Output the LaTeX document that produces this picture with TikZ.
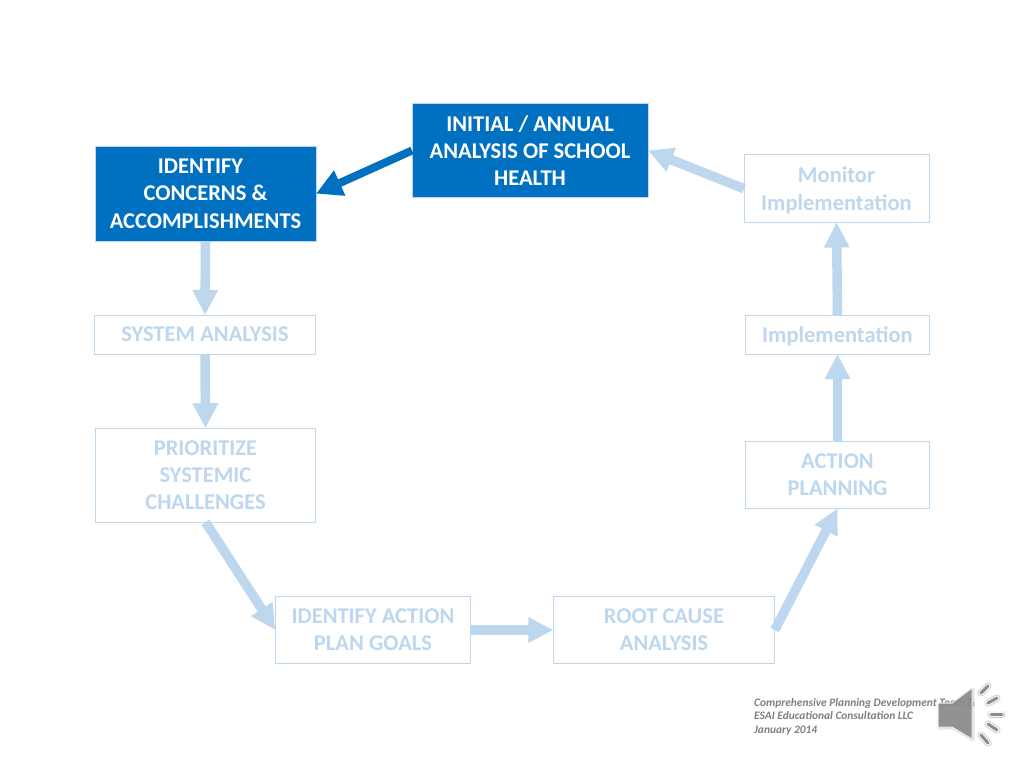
\documentclass[tikz,border=0pt]{standalone}
\usepackage{fontspec}
\setmainfont{Carlito}
\usetikzlibrary{arrows.meta}
\definecolor{strong}{HTML}{0070C0}
\definecolor{pale}{HTML}{BDD7EE}
\definecolor{foot}{HTML}{7F7F7F}
\tikzset{
  x=1pt,y=-1pt,
  boxbase/.style={anchor=center,inner sep=0pt,outer sep=0pt,align=center,font=\fontsize{22.5}{27.3}\selectfont\bfseries},
  activebox/.style={boxbase,fill=strong,draw=pale,line width=0.6pt,text=white},
  fadedbox/.style={boxbase,fill=white,draw=pale,line width=1pt,text=pale},
  flow/.style={pale,line width=9.5pt,-{Triangle[length=25pt,width=24pt]}},
  activeflow/.style={strong,line width=8pt,-{Triangle[length=26pt,width=26pt]}},
  waveback/.style={line cap=round,line width=7pt,draw=black!22},
  wavering/.style={line cap=round,line width=5.4pt,draw=white!95!gray},
  wavecore/.style={line cap=round,line width=3pt,draw=black!45}
}
\newcommand{\speakerwave}[2]{%
  \draw[waveback] #1 -- #2;
  \draw[wavering] #1 -- #2;
  \draw[wavecore] #1 -- #2;
}
\begin{document}
\begin{tikzpicture}
\useasboundingbox (0,0) rectangle (1024,768);
\fill[white] (0,0) rectangle (1024,768);
\node[activebox,minimum width=236pt,minimum height=93.5pt] (initial) at (530,150.5) {INITIAL / ANNUAL\\ANALYSIS OF SCHOOL\\HEALTH};
\node[activebox,minimum width=221pt,minimum height=95.5pt] (concerns) at (205.5,193.7) {IDENTIFY\hspace*{10pt}\\CONCERNS \&\\ACCOMPLISHMENTS};
\node[fadedbox,minimum width=221pt,minimum height=39pt] (system) at (205,334.5) {SYSTEM ANALYSIS};
\node[fadedbox,minimum width=220pt,minimum height=94pt] (prioritize) at (205.5,475.2) {PRIORITIZE\\SYSTEMIC\\CHALLENGES};
\node[fadedbox,minimum width=195.5pt,minimum height=66.5pt] (goals) at (373,630) {IDENTIFY ACTION\\PLAN GOALS};
\node[fadedbox,minimum width=221.5pt,minimum height=66.5pt] (root) at (664,630) {ROOT CAUSE\\ANALYSIS};
\node[fadedbox,minimum width=184pt,minimum height=67pt] (action) at (837.5,475) {ACTION\\PLANNING};
\node[fadedbox,minimum width=184pt,minimum height=39pt,text depth=0pt] (impl) at (837.5,334.5) {Implementation};
\node[fadedbox,minimum width=185pt,minimum height=67.5pt,text depth=0pt] (monitor) at (836.5,188.7) {Monitor\\Implementation};
\draw[activeflow] (initial.west) -- (concerns.east);
\draw[flow] (concerns.south) -- (system.north);
\draw[flow] (system.south) -- (prioritize.north);
\draw[flow] (prioritize.south) -- (goals.west);
\draw[flow] (goals.east) -- (root.west);
\draw[flow] (root.east) -- (action.south);
\draw[flow] (action.north) -- (impl.south);
\draw[flow] (impl.north) -- (monitor.south);
\draw[flow] (monitor.west) -- (initial.east);
\node[anchor=north west,inner sep=0pt,align=left,text=foot,font=\fontsize{11.4}{13.5}\selectfont\bfseries\itshape] (credit) at (754,698) {Comprehensive Planning Development Team \&\\ESAI Educational Consultation LLC\\January 2014};
% speaker icon
\path[fill=black!18,fill opacity=0.5,draw=black!18,draw opacity=0.5,line width=3pt,line join=round] (939,704) -- (953,704) -- (973,689) -- (973,740) -- (953,728) -- (939,728) -- cycle;
\path[fill=black!50,fill opacity=0.82,draw=white!85!gray,line width=1pt,line join=round] (938,703) -- (952,703) -- (972,688) -- (972,739) -- (952,727) -- (938,727) -- cycle;
\speakerwave{(981,693)}{(988,686)}
\speakerwave{(988,703)}{(997,698)}
\speakerwave{(991,714)}{(1002,714)}
\speakerwave{(988,724)}{(997,730)}
\speakerwave{(981,735)}{(988,743)}
\end{tikzpicture}
\end{document}
